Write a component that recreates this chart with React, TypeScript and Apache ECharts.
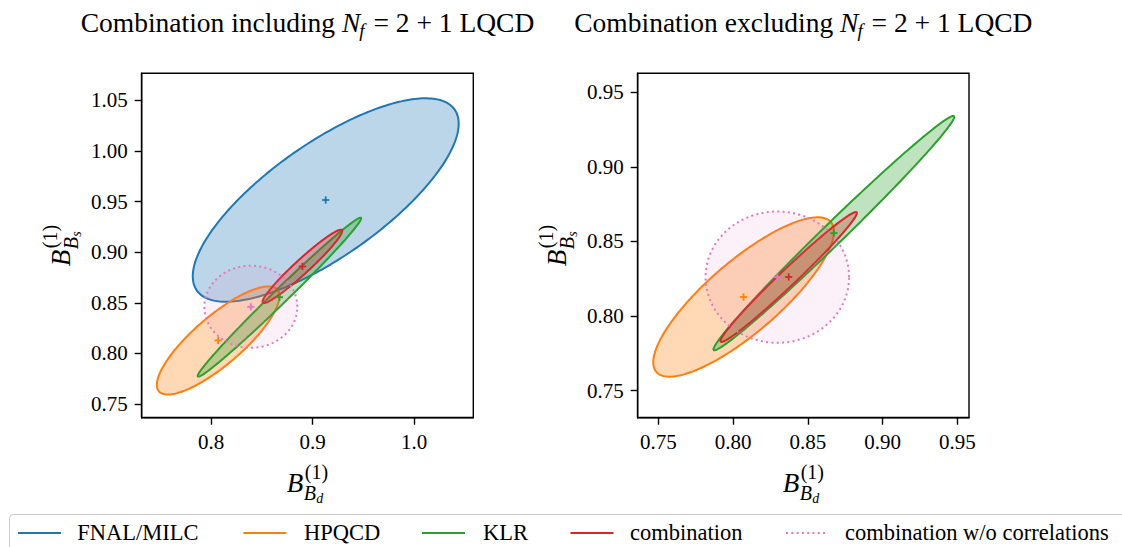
import React, { useEffect, useRef } from "react";
import * as echarts from "echarts";

// ---------------- data ----------------
const seriesNames = ["FNAL/MILC", "HPQCD", "KLR", "combination", "combination w/o correlations"];
const seriesColors = ["#1f77b4", "#ff7f0e", "#2ca02c", "#d62728", "#e377c2"];

// Panel 1: combination including Nf = 2+1 LQCD (all five ellipses)
const incMembers = [0, 1, 2, 3, 4];
const incCenterX = [0.913, 0.807, 0.8674, 0.890, 0.8392];
const incCenterY = [0.9516, 0.8128, 0.8556, 0.886, 0.8461];
const incSigmaX = [0.131, 0.0604, 0.0805, 0.0392, 0.0458];
const incSigmaY = [0.1005, 0.0534, 0.0785, 0.0362, 0.04055];
const incRho = [0.75, 0.82, 0.992, 0.965, 0.0];

// Panel 2: combination excluding Nf = 2+1 LQCD (no FNAL/MILC)
const excMembers = [1, 2, 3, 4];
const excCenterX = [0.807, 0.8674, 0.8372, 0.8296];
const excCenterY = [0.8128, 0.8556, 0.8262, 0.8261];
const excSigmaX = [0.0604, 0.0805, 0.0456, 0.048];
const excSigmaY = [0.0534, 0.0785, 0.0435, 0.044];
const excRho = [0.82, 0.992, 0.985, 0.0];

const incXTicks = [0.8, 0.9, 1.0];
const incYTicks = [0.75, 0.8, 0.85, 0.9, 0.95, 1.0, 1.05];
const excXTicks = [0.75, 0.8, 0.85, 0.9, 0.95];
const excYTicks = [0.75, 0.8, 0.85, 0.9, 0.95];

const incRangeX = [0.7317, 1.0584];
const incRangeY = [0.7365, 1.0768];
const excRangeX = [0.7362, 0.9578];
const excRangeY = [0.7319, 0.9627];

const titleWords = ["Combination including", "Combination excluding"];

// ---------------- helpers ----------------
const FONT = "Liberation Serif, Times New Roman, serif";
let measureCanvas: HTMLCanvasElement | null = null;
function measure(text: string, size: number, italic: boolean): number {
  if (!measureCanvas) measureCanvas = document.createElement("canvas");
  const ctx = measureCanvas.getContext("2d")!;
  ctx.font = `${italic ? "italic " : ""}${size}px "Liberation Serif", serif`;
  return ctx.measureText(text).width;
}

type Piece = { text: string; size: number; italic: boolean; x: number; base: number };
function textEl(p: Piece, rot = 0, X = 0, Y = 0) {
  // local (lx, ly) -> screen; rot = 0: horizontal, rot = 1: rotated 90deg counter-clockwise
  const lx = p.x;
  const ly = p.base - 0.3375 * p.size;
  const sx = rot ? X + ly : X + lx;
  const sy = rot ? Y - lx : Y + ly;
  return {
    type: "text",
    x: sx,
    y: sy,
    rotation: rot ? Math.PI / 2 : 0,
    silent: true,
    style: {
      text: p.text,
      fill: "#000",
      fontFamily: FONT,
      fontSize: p.size,
      fontStyle: p.italic ? "italic" : "normal",
      align: "left",
      verticalAlign: "middle",
      textAlign: "left",
      textVerticalAlign: "middle",
    },
  };
}

function rgba(hex: string, a: number) {
  const n = parseInt(hex.slice(1), 16);
  return `rgba(${(n >> 16) & 255},${(n >> 8) & 255},${n & 255},${a})`;
}

function axisNamePieces(sub: string): Piece[] {
  const bs = 27, ss = 20, sss = 14;
  const wB = measure("B", bs, true);
  const w1 = measure("(1)", ss, false);
  const wBs = measure("B", ss, true);
  const wd = measure(sub, sss, true);
  const x2 = wB + 1.5;
  const width = x2 + Math.max(w1, wBs + wd);
  const o = -width / 2;
  return [
    { text: "B", size: bs, italic: true, x: o, base: 0 },
    { text: "(1)", size: ss, italic: false, x: o + x2, base: -13 },
    { text: "B", size: ss, italic: true, x: o + x2 - 1, base: 7.5 },
    { text: sub, size: sss, italic: true, x: o + x2 - 1 + wBs + 0.3, base: 11 },
  ];
}

function titlePieces(words: string, cx: number, baseY: number): Piece[] {
  const S = 27.5, s = 19;
  const parts = [
    { text: words + " ", size: S, italic: false, dy: 0, kern: 0 },
    { text: "N", size: S, italic: true, dy: 0, kern: 0 },
    { text: "f", size: s, italic: true, dy: 5, kern: -1 },
    { text: " = 2 + 1 LQCD", size: S, italic: false, dy: 0, kern: 2 },
  ];
  let total = 0;
  const widths = parts.map((p) => measure(p.text, p.size, p.italic));
  parts.forEach((p, i) => (total += widths[i] + p.kern));
  let x = cx - total / 2;
  const out: Piece[] = [];
  parts.forEach((p, i) => {
    x += p.kern;
    out.push({ text: p.text, size: p.size, italic: p.italic, x, base: baseY + p.dy });
    x += widths[i];
  });
  return out;
}

function makeAxis(gridIndex: number, range: number[], ticks: number[], decimals: number) {
  return {
    type: "value",
    gridIndex,
    min: range[0],
    max: range[1],
    scale: true,
    axisLine: { show: true, onZero: false, lineStyle: { color: "#000", width: 1.4 } },
    axisTick: { show: true, inside: false, length: 7, lineStyle: { color: "#000", width: 1.4 }, customValues: ticks },
    axisLabel: {
      show: true,
      customValues: ticks,
      formatter: (v: number) => Number(v).toFixed(decimals),
      color: "#000",
      fontFamily: FONT,
      fontSize: 21,
      margin: 14,
    },
    splitLine: { show: false },
  };
}

function ellipseSeries(panel: number, member: number, cx: number, cy: number, sx: number, sy: number, rho: number, order: number) {
  const color = seriesColors[member];
  const dotted = member === 4;
  return {
    type: "custom",
    name: seriesNames[member],
    coordinateSystem: "cartesian2d",
    xAxisIndex: panel,
    yAxisIndex: panel,
    clip: true,
    silent: true,
    z: 2 + order,
    data: [[cx, cy, sx, sy, rho]],
    encode: { x: 0, y: 1 },
    renderItem: (params: any, api: any) => {
      const mx = api.value(0), my = api.value(1), ax = api.value(2), ay = api.value(3), r = api.value(4);
      const k = Math.sqrt(1 - r * r);
      const pts: number[][] = [];
      const N = 240;
      for (let i = 0; i < N; i++) {
        const t = (2 * Math.PI * i) / N;
        pts.push(api.coord([mx + ax * Math.cos(t), my + ay * (r * Math.cos(t) + k * Math.sin(t))]));
      }
      return {
        type: "polygon",
        shape: { points: pts },
        style: {
          fill: rgba(color, dotted ? 0.1 : 0.3),
          stroke: color,
          lineWidth: 2,
          lineDash: dotted ? [2, 3.3] : null,
          lineCap: "butt",
        },
      };
    },
  };
}

function markerSeries(panel: number, members: number[], xs: number[], ys: number[]) {
  return {
    type: "custom",
    coordinateSystem: "cartesian2d",
    xAxisIndex: panel,
    yAxisIndex: panel,
    silent: true,
    z: 20,
    data: xs.map((x, i) => [x, ys[i]]),
    encode: { x: 0, y: 1 },
    renderItem: (params: any, api: any) => {
      const p = api.coord([api.value(0), api.value(1)]);
      const c = seriesColors[members[params.dataIndex]];
      const h = 3.6;
      return {
        type: "group",
        children: [
          { type: "line", shape: { x1: p[0] - h, y1: p[1], x2: p[0] + h, y2: p[1] }, style: { stroke: c, lineWidth: 1.8 } },
          { type: "line", shape: { x1: p[0], y1: p[1] - h, x2: p[0], y2: p[1] + h }, style: { stroke: c, lineWidth: 1.8 } },
        ],
      };
    },
  };
}

function buildOption() {
  const grids = [
    { left: 141.7, top: 73.3, width: 331.6, height: 344.4 },
    { left: 637.7, top: 73.3, width: 331.3, height: 344.4 },
  ];
  const centers = grids.map((g) => g.left + g.width / 2);

  const series: any[] = [];
  incMembers.forEach((m, i) =>
    series.push(ellipseSeries(0, m, incCenterX[i], incCenterY[i], incSigmaX[i], incSigmaY[i], incRho[i], i))
  );
  excMembers.forEach((m, i) =>
    series.push(ellipseSeries(1, m, excCenterX[i], excCenterY[i], excSigmaX[i], excSigmaY[i], excRho[i], i))
  );
  series.push(markerSeries(0, incMembers, incCenterX, incCenterY));
  series.push(markerSeries(1, excMembers, excCenterX, excCenterY));

  const graphics: any[] = [];
  // titles
  titleWords.forEach((w, i) => {
    titlePieces(w, centers[i], 32).forEach((p) => graphics.push(textEl(p)));
  });
  // axis names
  const yLabelX = [70, 566];
  centers.forEach((c, i) => {
    axisNamePieces("d").forEach((p) => graphics.push(textEl(p, 0, c, 492)));
    axisNamePieces("s").forEach((p) =>
      graphics.push(textEl(p, 1, yLabelX[i], grids[i].top + grids[i].height / 2))
    );
  });
  // legend
  graphics.push({
    type: "rect",
    shape: { x: 9.5, y: 514.5, width: 1125, height: 45, r: 4 },
    style: { fill: "#fff", stroke: "#cccccc", lineWidth: 1 },
    silent: true,
  });
  const handleX = [[18, 61], [243.4, 286.3], [422, 465], [570.5, 613.5], [786, 827]];
  const textX = [77.3, 304, 483, 630, 845];
  const ly = 533;
  seriesNames.forEach((name, i) => {
    graphics.push({
      type: "line",
      shape: { x1: handleX[i][0], y1: ly, x2: handleX[i][1], y2: ly },
      style: { stroke: seriesColors[i], lineWidth: 2, lineDash: i === 4 ? [2, 3.3] : null, lineCap: "butt" },
      silent: true,
    });
    graphics.push(textEl({ text: name, size: 22.5, italic: false, x: textX[i], base: ly + 7.5 }));
  });

  return {
    animation: false,
    backgroundColor: "#ffffff",
    textStyle: { fontFamily: FONT },
    grid: grids.map((g) => ({
      ...g,
      show: true,
      borderColor: "#000",
      borderWidth: 1.4,
      backgroundColor: "transparent",
      containLabel: false,
      outerBoundsMode: "none",
    })),
    xAxis: [makeAxis(0, incRangeX, incXTicks, 1), makeAxis(1, excRangeX, excXTicks, 2)],
    yAxis: [makeAxis(0, incRangeY, incYTicks, 2), makeAxis(1, excRangeY, excYTicks, 2)],
    series,
    graphic: { elements: graphics },
  };
}

export default function App() {
  const ref = useRef<HTMLDivElement>(null);
  useEffect(() => {
    const chart = echarts.init(ref.current!, null, { renderer: "svg" });
    chart.setOption(buildOption() as any);
    return () => chart.dispose();
  }, []);
  return (
    <div
      ref={ref}
      style={{ position: "absolute", left: 0, top: 0, width: 1122, height: 547, background: "#fff" }}
    />
  );
}
